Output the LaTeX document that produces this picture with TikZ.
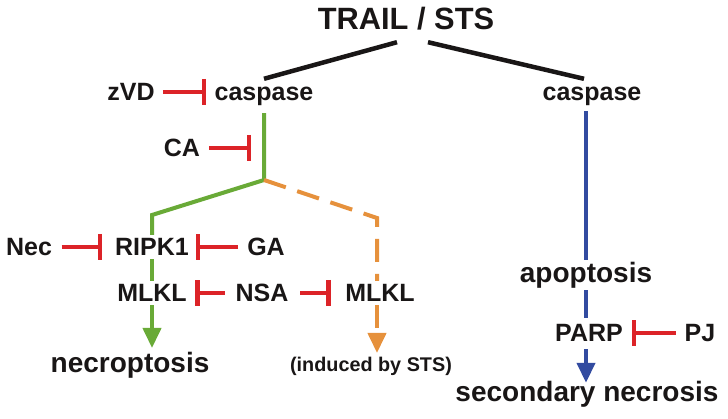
\documentclass[tikz,border=0pt]{standalone}
\usepackage{fontspec}
\setmainfont{Liberation Sans}
\usetikzlibrary{arrows.meta,calc}
\definecolor{cred}{RGB}{220,35,40}
\definecolor{cgreen}{RGB}{105,170,55}
\definecolor{corange}{RGB}{230,145,60}
\definecolor{cblue}{RGB}{50,75,160}
\definecolor{cblack}{RGB}{25,22,22}
\begin{document}
\begin{tikzpicture}[x=1pt,y=-1pt,
  lbl/.style={font=\bfseries\fontsize{25}{25}\selectfont, text=cblack, inner sep=0pt, text height=18pt, text depth=0pt, anchor=base},
  big/.style={lbl, font=\bfseries\fontsize{28}{28}\selectfont, text height=20pt},
  small/.style={lbl, font=\bfseries\fontsize{19.8}{20}\selectfont, text height=15pt},
  title/.style={lbl, font=\bfseries\fontsize{30.8}{31}\selectfont, text height=22pt},
  blk/.style={draw=cblack, line width=4.5pt},
  grn/.style={draw=cgreen, line width=4pt},
  org/.style={draw=corange, line width=4pt, dash pattern=on 23pt off 12pt},
  blu/.style={draw=cblue, line width=4pt},
  inh/.style={draw=cred, line width=4.5pt, -{Bar[width=26pt]}},
  garrow/.style={-{Triangle[width=18pt,length=20pt]}},
]
\useasboundingbox (0,0) rectangle (728,419);
% nodes
\node[title] (trail) at (406,30) {TRAIL / STS};
\node[lbl] (zvd) at (131,101) {zVD};
\node[lbl] (caspL) at (264,101) {caspase};
\node[lbl] (caspR) at (592,101) {caspase};
\node[lbl] (ca) at (182,157) {CA};
\node[lbl] (nec) at (29,256) {Nec};
\node[lbl] (ripk) at (152,256) {RIPK1};
\node[lbl] (ga) at (266,256) {GA};
\node[lbl] (mlklL) at (152,302) {MLKL};
\node[lbl] (nsa) at (262,302) {NSA};
\node[lbl] (mlklR) at (380,302) {MLKL};
\node[big] (necro) at (130,373) {necroptosis};
\node[small] (ind) at (371,371) {(induced by STS)};
\node[big] (apop) at (586,283) {apoptosis};
\node[lbl] (parp) at (589,342) {PARP};
\node[lbl] (pj) at (700,342) {PJ};
\node[big] (sec) at (587,401) {secondary necrosis};
% coordinates
\coordinate (gsplit) at (264,180);
\coordinate (gcorner) at (152,215);
\coordinate (gtip) at (152,348);
\coordinate (ocorner) at (377,218);
\coordinate (otop) at (377,281);
\coordinate (obot) at (377,305);
\coordinate (otip) at (377,353);
% black
\draw[blk] ([shift={(-9pt,-12pt)}]trail.south) -- ([yshift=4pt]caspL.north);
\draw[blk] ([shift={(22pt,-12pt)}]trail.south) -- ([shift={(-8pt,4pt)}]caspR.north);
% green
\draw[grn, line join=miter] ($(caspL.south)+(0,12)$) -- (gsplit) -- (gcorner) -- ($(ripk.north)+(0,-3)$);
\draw[grn] ($(ripk.south)+(0,3)$) -- ($(mlklL.north)+(0,-3)$);
\draw[grn, garrow] ($(mlklL.south)+(0,3)$) -- (gtip);
% orange
\draw[org] (gsplit) -- (ocorner) -- (otop);
\draw[org, garrow] (obot) -- (otip);
% blue
\draw[blu] ($(caspR.south -| apop.north)+(0,10)$) -- ($(apop.north)+(0,-3)$);
\draw[blu] ($(apop.south)+(0,7)$) -- ($(parp.north -| apop.south)+(0,-6)$);
\draw[blu, garrow] ($(parp.south -| apop.south)+(0,7)$) -- ($(sec.north -| apop.south)+(0,2)$);
% inhibitors
\draw[inh, shorten <=8pt, shorten >=8pt] (zvd.east) -- (caspL.west);
\draw[inh, shorten <=9pt, shorten >=13pt] (ca.east) -- (ca.east -| caspL.south);
\draw[inh, shorten <=9.5pt, shorten >=12.5pt] (nec.east) -- (ripk.west);
\draw[inh, shorten <=9pt, shorten >=6.5pt] (ga.west) -- (ripk.east);
\draw[inh, shorten <=10.5pt, shorten >=8.5pt] (nsa.west) -- (mlklL.east);
\draw[inh, shorten <=11.5pt, shorten >=14.5pt] (nsa.east) -- (mlklR.west);
\draw[inh, shorten <=8.7pt, shorten >=8.8pt] (pj.west) -- (parp.east);
\end{tikzpicture}
\end{document}
